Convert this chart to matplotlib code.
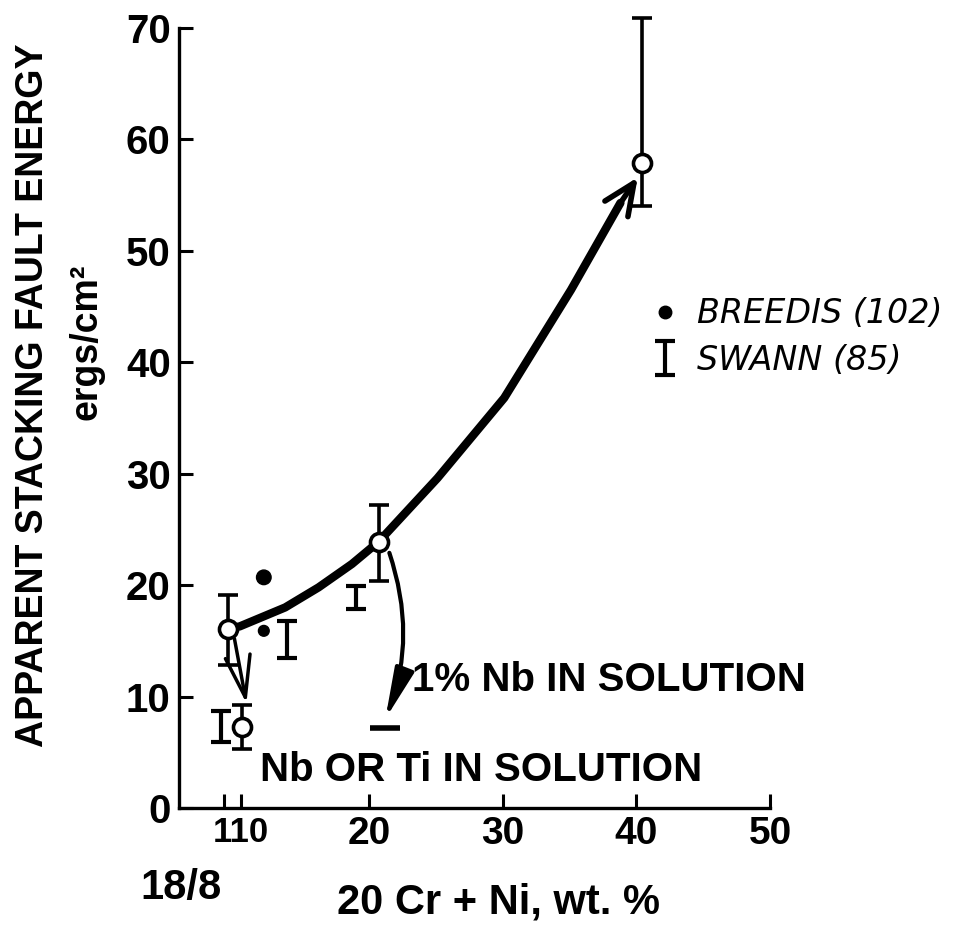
import matplotlib
matplotlib.use("Agg")
import matplotlib.pyplot as plt
from matplotlib.lines import Line2D
from matplotlib import font_manager

# ---- data ----
main_x = [9.4, 10.5, 20.7, 40.4]
main_y = [16.1, 7.3, 23.9, 57.9]
main_lo = [12.8, 5.3, 20.4, 54.0]
main_hi = [19.1, 9.2, 27.2, 70.9]

swann_x = [8.9, 13.8, 19.0]
swann_lo = [5.9, 13.5, 17.9]
swann_hi = [8.7, 16.8, 19.9]

breedis_x = [12.1, 12.1]
breedis_y = [20.7, 15.9]

curve_x = [9.4, 10.3, 13.7, 16.2, 18.7, 20.7, 25.1, 30.1, 35.1, 38.8]
curve_y = [16.1, 16.3, 18.0, 19.8, 21.9, 23.9, 29.6, 36.8, 46.5, 54.3]
curve_tip = (40.1, 56.6)

nb_ti_from = (9.9, 15.2)
nb_ti_to = (10.8, 9.4)
nb1_from = (21.5, 22.9)
nb1_to = (21.2, 8.0)
nb1_bar = (21.2, 7.2)

xtick_vals = [10.4, 20, 30, 40, 50]
xtick_labels = ["110", "20", "30", "40", "50"]
xminor_vals = [9.1]
ytick_vals = [0, 10, 20, 30, 40, 50, 60, 70]
ytick_labels = ["0", "10", "20", "30", "40", "50", "60", "70"]

BOLD = dict(family="Liberation Sans", weight="bold")
names = {f.name for f in font_manager.fontManager.ttflist}
NARROW = "Liberation Sans Narrow" if "Liberation Sans Narrow" in names else "Liberation Sans"

fig = plt.figure(figsize=(9.6, 9.36), dpi=100)
ax = fig.add_axes([179 / 960, 128 / 936, 591 / 960, 780 / 936])
ax.set_xlim(5.75, 50)
ax.set_ylim(0, 70)

for s in ["top", "right"]:
    ax.spines[s].set_visible(False)
for s in ["left", "bottom"]:
    ax.spines[s].set_linewidth(2.4)
    ax.spines[s].set_color("black")

ax.set_xticks(xtick_vals)
ax.set_xticklabels(xtick_labels, fontsize=28, **BOLD)
first = ax.get_xticklabels()[0]
first.set_family(NARROW)
first.set_fontsize(29 if NARROW != "Liberation Sans" else 25)
ax.set_xticks(xminor_vals, minor=True)
ax.set_yticks(ytick_vals)
ax.set_yticklabels(ytick_labels, fontsize=29, **BOLD)
ax.tick_params(axis="both", which="both", direction="in", length=10, width=2.2, colors="black")
ax.tick_params(axis="x", pad=6)
ax.tick_params(axis="y", pad=6)

# main curve
ax.plot(curve_x, curve_y, color="black", lw=6, solid_capstyle="round",
        solid_joinstyle="round", zorder=2)
ax.annotate("", xy=curve_tip, xytext=(curve_x[-1], curve_y[-1]),
            arrowprops=dict(arrowstyle="->,head_length=0.9,head_width=0.4", lw=4,
                            color="black", mutation_scale=25, shrinkA=0, shrinkB=0),
            zorder=2)

# main data points with error bars
ax.errorbar(main_x, main_y,
            yerr=[[y - l for y, l in zip(main_y, main_lo)], [h - y for y, h in zip(main_y, main_hi)]],
            fmt="o", ms=13, mfc="white", mec="black", mew=2.6, ecolor="black",
            elinewidth=2.6, capsize=7, capthick=2.6, zorder=3, clip_on=False)

# Swann error bars
swann_c = [(l + h) / 2 for l, h in zip(swann_lo, swann_hi)]
swann_err = ax.errorbar(swann_x, swann_c,
                        yerr=[[c - l for c, l in zip(swann_c, swann_lo)],
                              [h - c for c, h in zip(swann_c, swann_hi)]],
                        fmt="none", ecolor="black", elinewidth=3, capsize=7, capthick=3, zorder=3)

# Breedis dots
ax.scatter(breedis_x, breedis_y, s=[110, 60], color="black", zorder=3)

# arrows
ax.annotate("", xy=nb_ti_to, xytext=nb_ti_from,
            arrowprops=dict(arrowstyle="->,head_length=1.0,head_width=0.3", lw=2.5,
                            color="black", mutation_scale=30, shrinkA=0, shrinkB=0))
ax.annotate("", xy=nb1_to, xytext=nb1_from,
            arrowprops=dict(arrowstyle="-|>,head_length=1.7,head_width=0.33", lw=3,
                            color="black", mutation_scale=18, shrinkA=0, shrinkB=0,
                            connectionstyle="arc3,rad=-0.18"))
ax.plot([nb1_bar[0]], [nb1_bar[1]], marker="_", ms=22, mew=4, color="black")

# annotations
ax.text(23.2, 11.5, "1% Nb IN SOLUTION", fontsize=29, va="center", ha="left", **BOLD)
ax.text(11.8, 3.4, "Nb OR Ti IN SOLUTION", fontsize=29, va="center", ha="left", **BOLD)

# legend
breedis_handle = Line2D([], [], ls="none", marker="o", ms=9, color="black")
leg = ax.legend([breedis_handle, swann_err], ["BREEDIS (102)", "SWANN (85)"],
                loc="upper left", bbox_to_anchor=(0.775, 0.672), frameon=False,
                prop=dict(family="DejaVu Sans", style="italic", size=24),
                handlelength=0.9, handletextpad=0.5, labelspacing=0.4, borderaxespad=0)

# axis labels
fig.text(33 / 960, 1 - 395 / 936, "APPARENT STACKING FAULT ENERGY", rotation=90,
         ha="center", va="center", fontsize=27, **BOLD)
fig.text(86 / 960, 1 - 342 / 936, "ergs/cm\u00b2", rotation=90,
         ha="center", va="center", fontsize=27, **BOLD)
fig.text(498 / 960, 1 - 902 / 936, "20 Cr + Ni, wt. %", ha="center", va="center",
         fontsize=30, **BOLD)
fig.text(181 / 960, 1 - 888 / 936, "18/8", ha="center", va="center", fontsize=30, **BOLD)

fig.savefig("out.png", dpi=100)
